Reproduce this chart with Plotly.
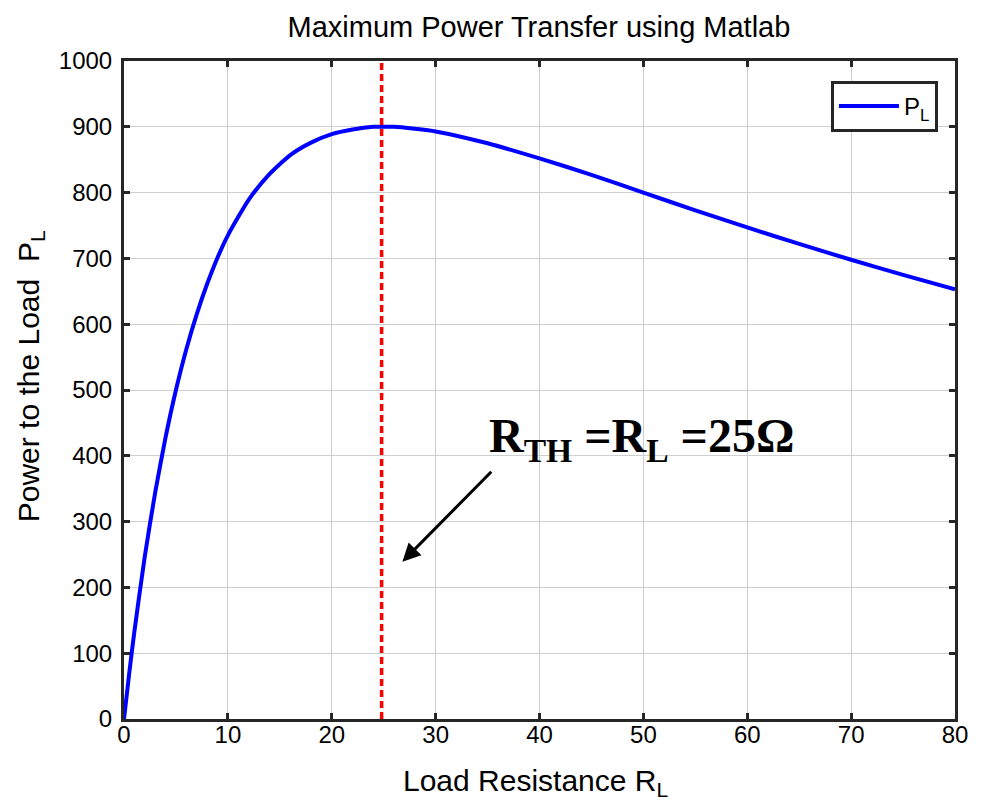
import plotly.graph_objects as go

# Load resistance values (ohms) and power to the load
r_load = [0, 0.5, 1, 2, 3, 4, 5, 6, 7, 8, 9, 10, 12, 14, 16, 18, 20, 22, 24, 25,
          26, 28, 30, 35, 40, 45, 50, 55, 60, 65, 70, 75, 80]
p_load = [0, 69, 133, 247, 344, 428, 500, 562, 615, 661, 701, 735, 789, 828, 857,
          876, 889, 896, 900, 900, 900, 897, 893, 875, 852, 827, 800, 773, 747,
          722, 698, 675, 653]
r_max = 24.8
x_ticks = [0, 10, 20, 30, 40, 50, 60, 70, 80]
y_ticks = [0, 100, 200, 300, 400, 500, 600, 700, 800, 900, 1000]

font_sans = "Liberation Sans, Arial, Helvetica, sans-serif"
axis_col = "#262626"

fig = go.Figure()
fig.add_trace(go.Scatter(
    x=r_load, y=p_load, mode="lines", name="P<sub>L</sub>",
    line=dict(color="#0000ff", width=4, shape="spline", smoothing=0.6),
))

fig.add_shape(type="line", xref="x", yref="y", x0=r_max, x1=r_max, y0=0, y1=1000,
              line=dict(color="#ff0000", width=3.5, dash="7px,4px"), layer="above")

fig.add_annotation(
    x=26.8, y=239, ax=35.5, ay=378, xref="x", yref="y", axref="x", ayref="y",
    text="", showarrow=True, arrowhead=2, arrowsize=1.2, arrowwidth=3,
    arrowcolor="black",
)
fig.add_annotation(
    x=0.437, y=0.425, xref="paper", yref="paper", xanchor="left", yanchor="middle",
    text="<b>R<sub>TH</sub> =R<sub>L</sub> =25Ω</b>", showarrow=False,
    font=dict(family="Liberation Serif, Times New Roman, serif", size=48, color="black"),
)
# axis titles
fig.add_annotation(
    x=-0.113, y=0.521, xref="paper", yref="paper", xanchor="center", yanchor="middle",
    text="Power to the Load  P<sub>L</sub>", textangle=-90, showarrow=False,
    font=dict(family=font_sans, size=30, color="black"),
)
fig.add_annotation(
    x=0.4946, y=-0.097, xref="paper", yref="paper", xanchor="center", yanchor="middle",
    text="Load Resistance R<sub>L</sub>", showarrow=False,
    font=dict(family=font_sans, size=30, color="black"),
)

fig.update_layout(
    width=976, height=797,
    margin=dict(l=116, r=29, t=53, b=86, autoexpand=False),
    paper_bgcolor="white", plot_bgcolor="white",
    title=dict(text="Maximum Power Transfer using Matlab", x=0.544, xanchor="center",
               xref="container", y=0.976, yref="container", yanchor="middle",
               font=dict(family=font_sans, size=29, color="black")),
    font=dict(family=font_sans, color="black"),
    showlegend=True,
    legend=dict(x=0.9795, y=0.9696, xanchor="right", yanchor="top",
                bgcolor="white", bordercolor=axis_col, borderwidth=3,
                itemwidth=60,
                font=dict(family=font_sans, size=24, color="black")),
)
fig.update_xaxes(
    range=[0, 80], tickvals=x_ticks, showgrid=True, gridcolor="#cfcfcf", gridwidth=1,
    showline=True, linecolor=axis_col, linewidth=3, mirror="allticks",
    ticks="inside", ticklen=6, tickwidth=3, tickcolor=axis_col,
    tickfont=dict(size=24, color="black"), zeroline=False, automargin=False,
    ticklabelstandoff=-8,
)
fig.update_yaxes(
    range=[0, 1000], tickvals=y_ticks, showgrid=True, gridcolor="#cfcfcf", gridwidth=1,
    showline=True, linecolor=axis_col, linewidth=3, mirror="allticks",
    ticks="inside", ticklen=6, tickwidth=3, tickcolor=axis_col,
    tickfont=dict(size=24, color="black"), zeroline=False, automargin=False,
    ticklabelstandoff=4,
)

fig.write_html("out.html")
